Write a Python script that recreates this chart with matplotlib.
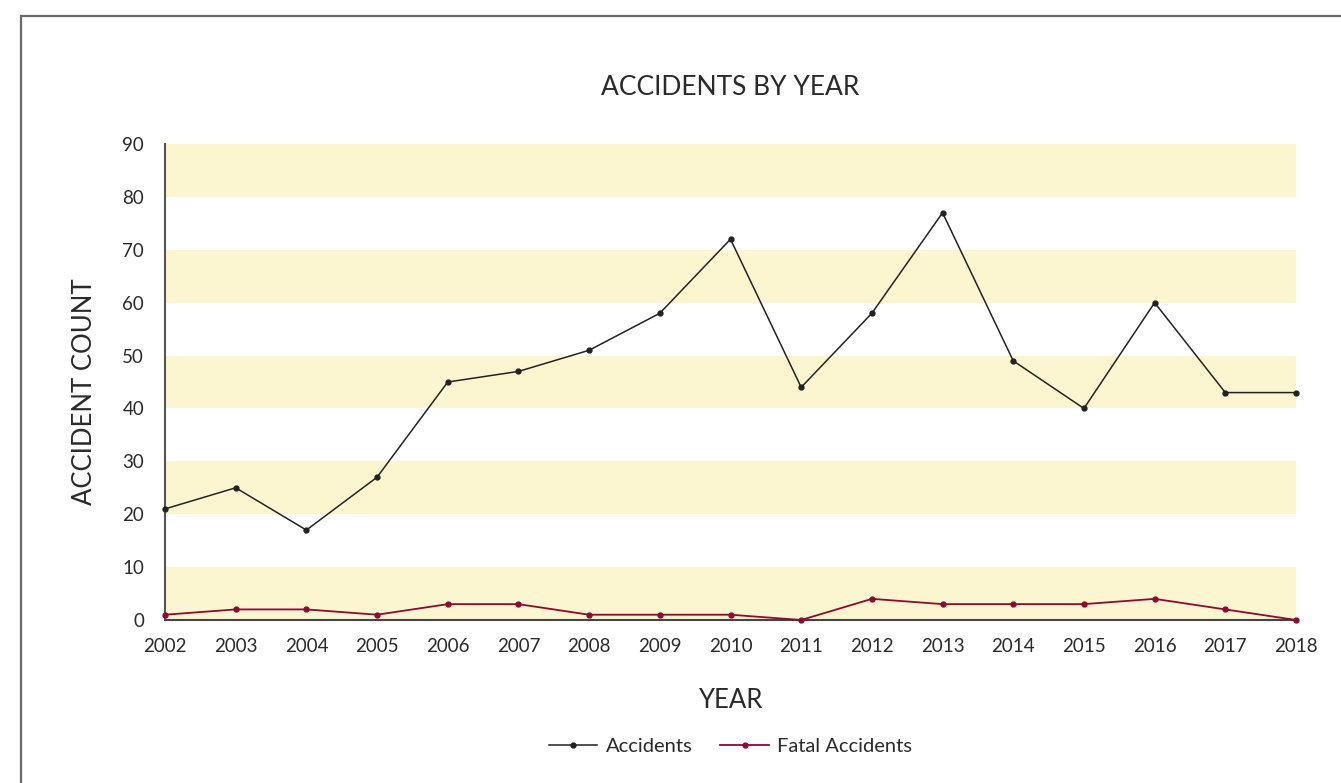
import matplotlib
matplotlib.use('Agg')
import matplotlib.pyplot as plt
from matplotlib.patches import Rectangle

# Data ---------------------------
years = list(range(2002, 2019))
accidents = [21, 25, 17, 27, 45, 47, 51, 58, 72, 44, 58, 77, 49, 40, 60, 43, 43]
fatal_accidents = [1, 2, 2, 1, 3, 3, 1, 1, 1, 0, 4, 3, 3, 3, 4, 2, 0]
y_ticks = list(range(0, 100, 10))
band_starts = [0, 20, 40, 60, 80]
# --------------------------------

plt.rcParams['font.family'] = ['Lato', 'DejaVu Sans']
W, H = 1341, 783
fig = plt.figure(figsize=(W / 100, H / 100), dpi=100)
fig.patch.set_facecolor('white')

# outer frame (cut off on the right and bottom)
fig.patches.append(Rectangle((21 / W, -0.1), 1.2, 1 - 16 / H + 0.1, transform=fig.transFigure,
                             fill=False, edgecolor='#6a6a6a', linewidth=1.6))

ax = fig.add_axes([165 / W, 1 - 620 / H, (1296 - 165) / W, (620 - 144) / H])
ax.set_xlim(years[0], years[-1])
ax.set_ylim(0, 90)

for b in band_starts:
    ax.axhspan(b, b + 10, color='#fcf6d0', zorder=0, linewidth=0)

ax.plot(years, accidents, color='#222222', linewidth=1.1, marker='o', markersize=3.5,
        label='Accidents', zorder=3, clip_on=False)
ax.plot(years, fatal_accidents, color='#8c0a30', linewidth=1.3, marker='o', markersize=3.5,
        label='Fatal Accidents', zorder=3, clip_on=False)

for s in ['top', 'right']:
    ax.spines[s].set_visible(False)
ax.spines['left'].set_color('#555555')
ax.spines['left'].set_linewidth(1.5)
ax.spines['bottom'].set_color('#444444')
ax.spines['bottom'].set_linewidth(1.5)

ax.set_xticks(years)
ax.set_yticks(y_ticks)
ax.tick_params(length=0, labelsize=13.5, colors='#2a2a2a', pad=13)
ax.tick_params(axis='y', pad=15)

ax.set_title('ACCIDENTS BY YEAR', fontsize=19, color='#2a2a2a', pad=35)
ax.set_xlabel('YEAR', fontsize=18.5, color='#2a2a2a', labelpad=24)
ax.set_ylabel('ACCIDENT COUNT', fontsize=18.5, color='#2a2a2a', labelpad=18, y=0.48)

ax.legend(loc='upper center', bbox_to_anchor=(0.5, -0.21), ncol=2, frameon=False,
          fontsize=14.5, handlelength=2.4, columnspacing=1.4, handletextpad=0.4,
          labelcolor='#2a2a2a')

fig.savefig('out.png', dpi=100)
